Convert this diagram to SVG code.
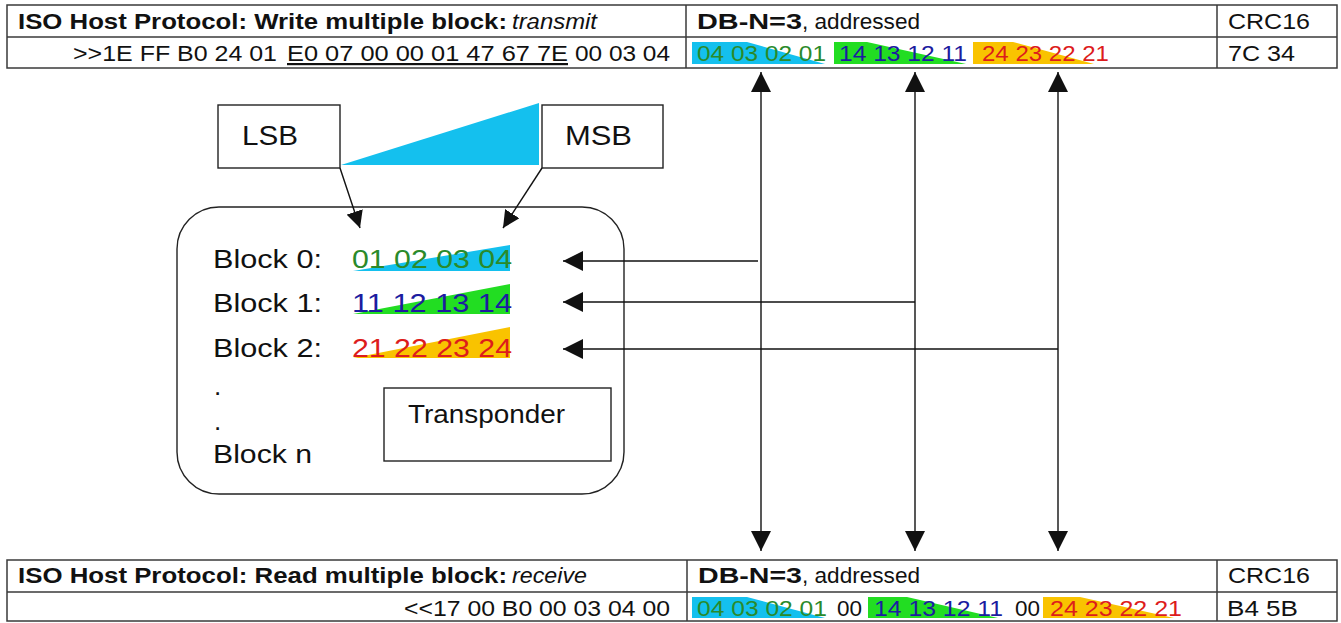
<svg xmlns="http://www.w3.org/2000/svg" width="1341" height="623" viewBox="0 0 1341 623">
<defs>
<style>
.t{font-family:"Liberation Sans",Arial,sans-serif;fill:#111;font-size:22px}
.big{font-size:26px}
.lbl{font-size:28px}
.b{font-weight:bold}
.i{font-style:italic}
.grid{fill:none;stroke:#3a3a3a;stroke-width:1.5}
.box{fill:none;stroke:#222;stroke-width:1.4}
.conn{stroke:#111;stroke-width:1.4;fill:none}
.g{fill:#2a8a2a}.bl{fill:#1c1ca0}.r{fill:#dd1c1c}
.cy{fill:#14c0ee}.gr{fill:#22dd22}.or{fill:#f9c300}
</style>
<marker id="ah" viewBox="0 0 20 20" refX="20" refY="10" markerWidth="20" markerHeight="20" markerUnits="userSpaceOnUse" orient="auto-start-reverse"><path d="M0,0 L20,10 L0,20 z" fill="#111"/></marker>
<marker id="ahs" viewBox="0 0 20 20" refX="20" refY="10" markerWidth="17" markerHeight="17" markerUnits="userSpaceOnUse" orient="auto"><path d="M0,0 L20,10 L0,20 z" fill="#111"/></marker>
</defs>
<rect width="1341" height="623" fill="#fff"/>

<g id="table-transmit">
<rect class="grid" x="7" y="5" width="1330" height="63"/>
<line class="grid" x1="7" y1="37" x2="1337" y2="37"/>
<line class="grid" x1="686" y1="5" x2="686" y2="68"/>
<line class="grid" x1="1217" y1="5" x2="1217" y2="68"/>
<text class="t b" x="18" y="29" textLength="489" lengthAdjust="spacingAndGlyphs">ISO Host Protocol: Write multiple block:</text>
<text class="t i" x="512" y="29" textLength="85" lengthAdjust="spacingAndGlyphs">transmit</text>
<text class="t b" x="697" y="29" textLength="105" lengthAdjust="spacingAndGlyphs">DB-N=3</text>
<text class="t" x="802" y="29" textLength="118" lengthAdjust="spacingAndGlyphs">, addressed</text>
<text class="t" x="1228" y="29" textLength="82" lengthAdjust="spacingAndGlyphs">CRC16</text>
<text class="t" x="73" y="61" textLength="204" lengthAdjust="spacingAndGlyphs">&gt;&gt;1E FF B0 24 01</text>
<text class="t" x="287" y="61" textLength="281" lengthAdjust="spacingAndGlyphs" text-decoration="underline">E0 07 00 00 01 47 67 7E</text>
<text class="t" x="575" y="61" textLength="95" lengthAdjust="spacingAndGlyphs">00 03 04</text>
<polygon class="cy" points="692,42 747,42 825,64 692,64"/>
<polygon class="gr" points="834,42 867,42 966,64 834,64"/>
<polygon class="or" points="973,42 1013,42 1094,64 973,64"/>
<text class="t g" x="697" y="61" textLength="129" lengthAdjust="spacingAndGlyphs">04 03 02 01</text>
<text class="t bl" x="839" y="61" textLength="128" lengthAdjust="spacingAndGlyphs">14 13 12 11</text>
<text class="t r" x="982" y="61" textLength="127" lengthAdjust="spacingAndGlyphs">24 23 22 21</text>
<text class="t" x="1228" y="61" textLength="67" lengthAdjust="spacingAndGlyphs">7C 34</text>
</g>

<g id="table-receive">
<rect class="grid" x="7" y="560" width="1330" height="61"/>
<line class="grid" x1="7" y1="592" x2="1337" y2="592"/>
<line class="grid" x1="687" y1="560" x2="687" y2="621"/>
<line class="grid" x1="1217" y1="560" x2="1217" y2="621"/>
<text class="t b" x="18" y="583" textLength="489" lengthAdjust="spacingAndGlyphs">ISO Host Protocol: Read multiple block:</text>
<text class="t i" x="512" y="583" textLength="75" lengthAdjust="spacingAndGlyphs">receive</text>
<text class="t b" x="698" y="583" textLength="104" lengthAdjust="spacingAndGlyphs">DB-N=3</text>
<text class="t" x="802" y="583" textLength="118" lengthAdjust="spacingAndGlyphs">, addressed</text>
<text class="t" x="1228" y="583" textLength="82" lengthAdjust="spacingAndGlyphs">CRC16</text>
<text class="t" x="404" y="616" textLength="266" lengthAdjust="spacingAndGlyphs">&lt;&lt;17 00 B0 00 03 04 00</text>
<polygon class="cy" points="692,597 747,597 825,618 692,618"/>
<polygon class="gr" points="868,597 907,597 998,618 868,618"/>
<polygon class="or" points="1043,597 1080,597 1174,618 1043,618"/>
<text class="t g" x="697" y="616" textLength="130" lengthAdjust="spacingAndGlyphs">04 03 02 01</text>
<text class="t" x="837" y="616" textLength="25" lengthAdjust="spacingAndGlyphs">00</text>
<text class="t bl" x="874" y="616" textLength="129" lengthAdjust="spacingAndGlyphs">14 13 12 11</text>
<text class="t" x="1015" y="616" textLength="25" lengthAdjust="spacingAndGlyphs">00</text>
<text class="t r" x="1050" y="616" textLength="132" lengthAdjust="spacingAndGlyphs">24 23 22 21</text>
<text class="t" x="1227" y="616" textLength="71" lengthAdjust="spacingAndGlyphs">B4 5B</text>
</g>

<g id="lsb">
<rect class="box" x="218" y="105" width="122" height="63"/>
<text class="t lbl" x="242" y="145" textLength="56" lengthAdjust="spacingAndGlyphs">LSB</text>
</g>
<g id="msb">
<rect class="box" x="542" y="105" width="121" height="63"/>
<text class="t lbl" x="565" y="145" textLength="67" lengthAdjust="spacingAndGlyphs">MSB</text>
</g>
<g id="byte-order-wedge">
<polygon class="cy" points="341,165 539,103 539,165"/>
</g>

<g id="transponder">
<rect class="box" x="177" y="207" width="447" height="287" rx="42" ry="42"/>
<text class="t big" x="213" y="268" textLength="109" lengthAdjust="spacingAndGlyphs">Block 0:</text>
<text class="t big" x="213" y="312" textLength="109" lengthAdjust="spacingAndGlyphs">Block 1:</text>
<text class="t big" x="213" y="357" textLength="109" lengthAdjust="spacingAndGlyphs">Block 2:</text>
<text class="t big" x="214" y="395">.</text>
<text class="t big" x="214" y="430">.</text>
<text class="t big" x="213" y="463" textLength="99" lengthAdjust="spacingAndGlyphs">Block n</text>
<polygon class="cy" points="353,271 510,245 510,271"/>
<polygon class="gr" points="353,314 510,284 510,314"/>
<polygon class="or" points="353,358 510,327 510,358"/>
<text class="t big g" x="352" y="268" textLength="160" lengthAdjust="spacingAndGlyphs">01 02 03 04</text>
<text class="t big bl" x="352" y="312" textLength="160" lengthAdjust="spacingAndGlyphs">11 12 13 14</text>
<text class="t big r" x="352" y="357" textLength="160" lengthAdjust="spacingAndGlyphs">21 22 23 24</text>
</g>
<g id="transponder-label">
<rect class="box" x="384" y="388" width="227" height="73"/>
<text class="t big" x="408" y="423" textLength="157" lengthAdjust="spacingAndGlyphs">Transponder</text>
</g>

<g id="connectors">
<line class="conn" x1="761" y1="72" x2="761" y2="551" marker-start="url(#ah)" marker-end="url(#ah)"/>
<line class="conn" x1="915" y1="72" x2="915" y2="551" marker-start="url(#ah)" marker-end="url(#ah)"/>
<line class="conn" x1="1058" y1="72" x2="1058" y2="551" marker-start="url(#ah)" marker-end="url(#ah)"/>
<line class="conn" x1="758" y1="261" x2="563" y2="261" marker-end="url(#ah)"/>
<line class="conn" x1="915" y1="302" x2="563" y2="302" marker-end="url(#ah)"/>
<line class="conn" x1="1058" y1="349" x2="563" y2="349" marker-end="url(#ah)"/>
<line class="conn" x1="340" y1="168" x2="360" y2="228" marker-end="url(#ahs)"/>
<line class="conn" x1="542" y1="168" x2="503" y2="228" marker-end="url(#ahs)"/>
</g>
</svg>
